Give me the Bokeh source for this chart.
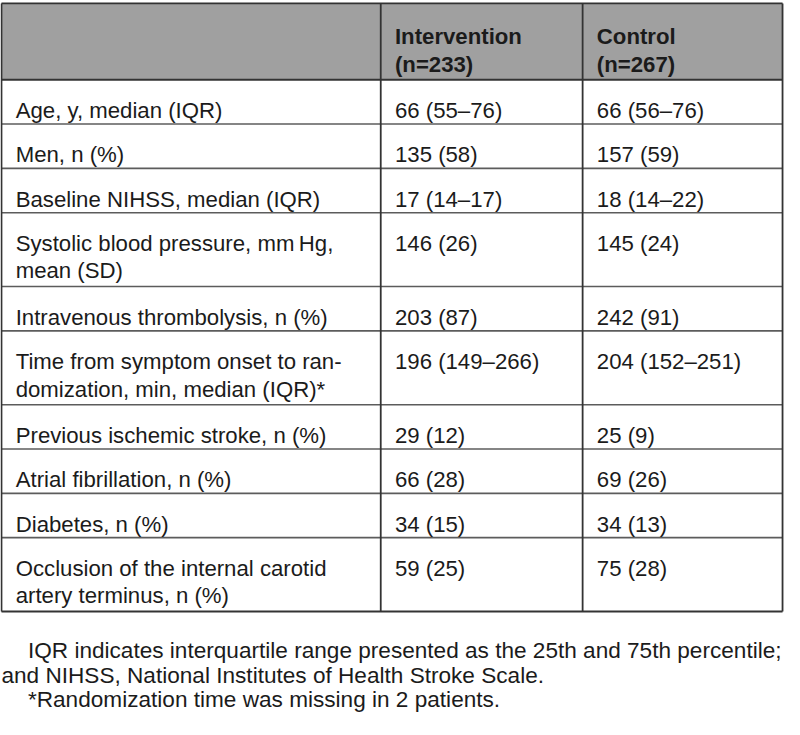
from bokeh.plotting import figure
from bokeh.models import Range1d
from bokeh.core.properties import value
from bokeh.embed import file_html
from bokeh.resources import INLINE

# ---------------- data ----------------
headers = ["", "Intervention\n(n=233)", "Control\n(n=267)"]
row_labels = [
    "Age, y, median (IQR)",
    "Men, n (%)",
    "Baseline NIHSS, median (IQR)",
    "Systolic blood pressure, mm\u2009Hg,\nmean (SD)",
    "Intravenous thrombolysis, n (%)",
    "Time from symptom onset to ran-\ndomization, min, median (IQR)*",
    "Previous ischemic stroke, n (%)",
    "Atrial fibrillation, n (%)",
    "Diabetes, n (%)",
    "Occlusion of the internal carotid\nartery terminus, n (%)",
]
intervention = ["66 (55\u201376)", "135 (58)", "17 (14\u201317)", "146 (26)", "203 (87)",
                "196 (149\u2013266)", "29 (12)", "66 (28)", "34 (15)", "59 (25)"]
control = ["66 (56\u201376)", "157 (59)", "18 (14\u201322)", "145 (24)", "242 (91)",
           "204 (152\u2013251)", "25 (9)", "69 (26)", "34 (13)", "75 (28)"]
footnotes = [
    "IQR indicates interquartile range presented as the 25th and 75th percentile;",
    "and NIHSS, National Institutes of Health Stroke Scale.",
    "*Randomization time was missing in 2 patients.",
]

# ---------------- layout ----------------
W, H = 800, 735
col_edges = [1, 388, 594, 798]
table_top = 3
header_h = 78
row_h1 = 45.3
extra_line = 30.2
pad_x = 14.5
base_off = 31.5
line_gap = 28.0
FONT = "Liberation Sans"
FS = "22.2px"
TXT = "#1b1b1b"

p = figure(width=784, height=719, x_range=Range1d(0, W), y_range=Range1d(H, 0),
           output_backend="svg", toolbar_location=None, min_border=0,
           x_axis_location=None, y_axis_location=None)
p.grid.visible = False
p.outline_line_color = None
p.background_fill_color = "white"
p.border_fill_color = "white"

# row boundaries
bounds = [table_top, table_top + header_h]
for lab in row_labels:
    n = lab.count("\n") + 1
    bounds.append(bounds[-1] + row_h1 + (n - 1) * extra_line)
table_bottom = bounds[-1]

# header fill
p.quad(left=[col_edges[0]], right=[col_edges[-1]], top=[bounds[0]], bottom=[bounds[1]],
       fill_color="#a0a0a0", line_color=None)

# horizontal lines
inner = bounds[2:-1]
p.segment(x0=[col_edges[0]] * len(inner), x1=[col_edges[-1]] * len(inner),
          y0=inner, y1=inner, line_color="#5c5c5c", line_width=1.6)
outer_h = [bounds[0], bounds[1], bounds[-1]]
p.segment(x0=[col_edges[0]] * 3, x1=[col_edges[-1]] * 3, y0=outer_h, y1=outer_h,
          line_color="#333333", line_width=1.8)
# vertical lines
p.segment(x0=col_edges, x1=col_edges, y0=[table_top] * 4, y1=[table_bottom] * 4,
          line_color="#333333", line_width=1.8)

# text items
def cell_lines(text, ci, top):
    xs, ys, ts = [], [], []
    for k, ln in enumerate(text.split("\n")):
        xs.append(col_edges[ci] + pad_x)
        ys.append(top + base_off + k * line_gap)
        ts.append(ln)
    return xs, ys, ts

hx, hy, ht = [], [], []
for ci, h in enumerate(headers):
    if h:
        a, b, c = cell_lines(h, ci, bounds[0] + 2.5)
        hx += a; hy += b; ht += c
p.text(x=hx, y=hy, text=ht, text_font=value(FONT), text_font_size=value(FS),
       text_font_style="bold", text_color=TXT, text_baseline="alphabetic")

bx, by, bt = [], [], []
for ri in range(len(row_labels)):
    top = bounds[ri + 1]
    for ci, t in enumerate([row_labels[ri], intervention[ri], control[ri]]):
        a, b, c = cell_lines(t, ci, top)
        bx += a; by += b; bt += c
p.text(x=bx, y=by, text=bt, text_font=value(FONT), text_font_size=value(FS),
       text_color=TXT, text_baseline="alphabetic")

# footnotes
fx = [28, 1, 28]
fy = [table_bottom + 40, table_bottom + 65, table_bottom + 90]
p.text(x=fx, y=fy, text=footnotes, text_font=value(FONT), text_font_size=value("22.6px"),
       text_color=TXT, text_baseline="alphabetic")

open("out.html", "w").write(file_html(p, INLINE))
